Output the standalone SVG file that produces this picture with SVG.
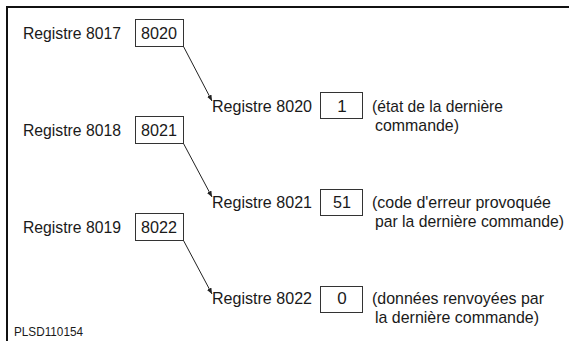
<svg xmlns="http://www.w3.org/2000/svg" width="570" height="341" viewBox="0 0 570 341">
<style>
text{font-family:"Liberation Sans",Arial,sans-serif;font-size:17px;fill:#1a1a1a}
.c{text-anchor:middle}
.b{fill:#fff;stroke:#333;stroke-width:1}
.l{stroke:#222;stroke-width:1;fill:none}
.small{font-size:12px}
</style>
<defs>
<marker id="ah" markerWidth="7" markerHeight="5" refX="6" refY="2.5" orient="auto" markerUnits="userSpaceOnUse">
<path d="M0,0 L6,2.5 L0,5 Z" fill="#222"/>
</marker>
</defs>
<rect width="570" height="341" fill="#fff"/>
<path d="M7,341 V7 H569" fill="none" stroke="#111" stroke-width="2"/>
<g id="src1"><text x="23" y="39" textLength="98" lengthAdjust="spacingAndGlyphs">Registre 8017</text><rect class="b" x="135.5" y="19.5" width="48" height="27"/><text x="159" y="39" class="c" textLength="36" lengthAdjust="spacingAndGlyphs">8020</text></g>
<g id="src2"><text x="23" y="136" textLength="98" lengthAdjust="spacingAndGlyphs">Registre 8018</text><rect class="b" x="135.5" y="116.5" width="48" height="27"/><text x="159" y="136" class="c" textLength="36" lengthAdjust="spacingAndGlyphs">8021</text></g>
<g id="src3"><text x="23" y="233" textLength="98" lengthAdjust="spacingAndGlyphs">Registre 8019</text><rect class="b" x="135.5" y="213.5" width="48" height="27"/><text x="159" y="233" class="c" textLength="36" lengthAdjust="spacingAndGlyphs">8022</text></g>
<g id="dst1"><text x="212" y="112" textLength="100" lengthAdjust="spacingAndGlyphs">Registre 8020</text><rect class="b" x="320.5" y="92.5" width="42" height="26"/><text x="342" y="112" class="c">1</text><text x="372" y="112" textLength="131" lengthAdjust="spacingAndGlyphs">(état de la dernière</text><text x="375" y="131" textLength="84" lengthAdjust="spacingAndGlyphs">commande)</text></g>
<g id="dst2"><text x="212" y="208" textLength="100" lengthAdjust="spacingAndGlyphs">Registre 8021</text><rect class="b" x="320.5" y="189.5" width="42" height="26"/><text x="342" y="208" class="c" textLength="18" lengthAdjust="spacingAndGlyphs">51</text><text x="372" y="208" textLength="179" lengthAdjust="spacingAndGlyphs">(code d'erreur provoquée</text><text x="375" y="227" font-size="16.5" textLength="189" lengthAdjust="spacingAndGlyphs" style="font-size:16.3px">par la dernière commande)</text></g>
<g id="dst3"><text x="212" y="304" textLength="100" lengthAdjust="spacingAndGlyphs">Registre 8022</text><rect class="b" x="320.5" y="286.5" width="42" height="26"/><text x="342" y="304" class="c">0</text><text x="372" y="304" textLength="172" lengthAdjust="spacingAndGlyphs">(données renvoyées par</text><text x="375" y="323" textLength="164" lengthAdjust="spacingAndGlyphs">la dernière commande)</text></g>
<g id="connectors">
<line class="l" x1="183.5" y1="46.5" x2="212" y2="101" marker-end="url(#ah)"/>
<line class="l" x1="183.5" y1="143.5" x2="212" y2="197" marker-end="url(#ah)"/>
<line class="l" x1="183.5" y1="240.5" x2="212" y2="294" marker-end="url(#ah)"/>
</g>
<text class="small" x="14" y="336" textLength="69" lengthAdjust="spacingAndGlyphs">PLSD110154</text>
</svg>
